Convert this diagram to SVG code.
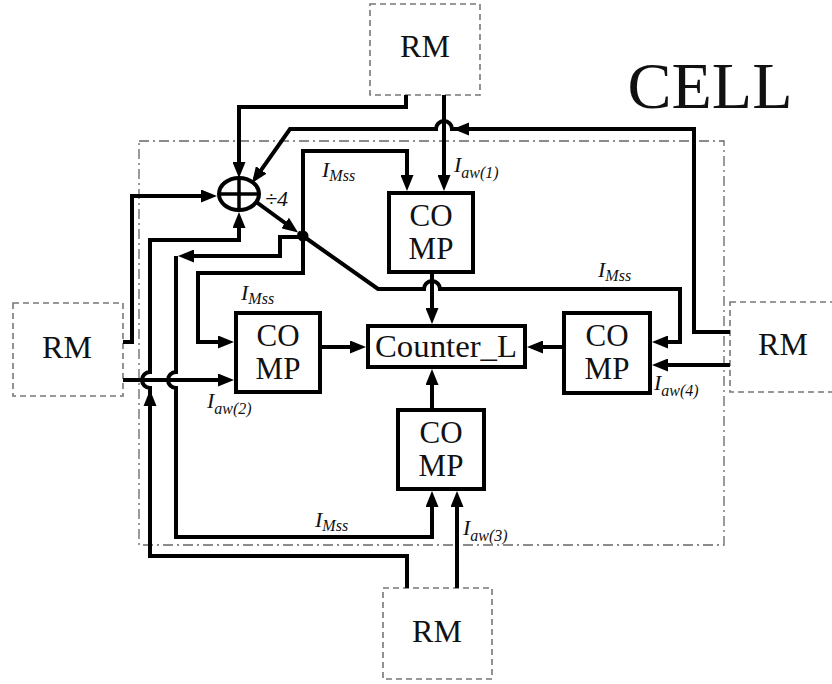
<svg xmlns="http://www.w3.org/2000/svg" width="832" height="684" viewBox="0 0 832 684">
<style>
.rm{fill:none;stroke:#777;stroke-width:1.6;stroke-dasharray:6,4}
.box{fill:#fff;stroke:#000;stroke-width:4}
.t{font-family:"Liberation Serif","Times New Roman",serif;fill:#111;text-anchor:middle}
.w{fill:none;stroke:#000;stroke-width:4;stroke-linejoin:miter}
.lbl{font-family:"Liberation Serif","Times New Roman",serif;font-style:italic;fill:#111;font-size:22px}
.sub{font-size:16px}
</style>
<defs>
<marker id="ah" markerUnits="userSpaceOnUse" markerWidth="16" markerHeight="13" refX="11" refY="6.5" orient="auto-start-reverse">
<path d="M0,0 L16,6.5 L0,13 z" fill="#000"/>
</marker>
</defs>
<rect width="832" height="684" fill="#fff"/>

<g id="cell">
<rect x="139" y="141" width="585" height="404" fill="none" stroke="#666" stroke-width="1.3" stroke-dasharray="10,4,2,4"/>
<text class="t" x="710" y="108" font-size="66">CELL</text>
</g>

<g id="rm-top"><rect class="rm" x="370" y="4" width="110" height="91"/><text class="t" x="425" y="57" font-size="32">RM</text></g>
<g id="rm-left"><rect class="rm" x="13" y="303" width="110" height="93"/><text class="t" x="67" y="358" font-size="32">RM</text></g>
<g id="rm-right"><rect class="rm" x="730" y="302" width="112" height="90"/><text class="t" x="783" y="355" font-size="32">RM</text></g>
<g id="rm-bottom"><rect class="rm" x="383" y="588" width="109" height="91"/><text class="t" x="437" y="642" font-size="32">RM</text></g>

<g id="connectors">
<path class="w" d="M406,95 V107 H239 V173" marker-end="url(#ah)"/>
<path class="w" d="M444,95 V186" marker-end="url(#ah)"/>
<path class="w" d="M730,332 H694 V129 H452 A8,8 0 0 0 436,129 H290 L254.9,178.9" marker-end="url(#ah)"/>
<polygon points="453,129 469,122.5 469,135.5" fill="#000"/>
<path class="w" d="M123,342 H132 V196 H212" marker-end="url(#ah)"/>
<path class="w" d="M123,380 H229" marker-end="url(#ah)"/>
<path class="w" d="M407,588 V556 H150 V388 A8,8 0 0 1 150,372 V240 H239 V217" marker-end="url(#ah)"/>
<polygon points="150,390 143.5,406 156.5,406" fill="#000"/>
<path class="w" d="M255,201 L294,229.5" marker-end="url(#ah)"/>
<path class="w" d="M298,232.5 L378,289 H424 A8,8 0 0 1 440,289 H680 V342 H657" marker-end="url(#ah)"/>
<circle cx="303" cy="236" r="5.5" fill="#000"/>
<path class="w" d="M407,186 V151 H303 V273 H198 V342 H229" marker-start="url(#ah)" marker-end="url(#ah)"/>
<path class="w" d="M303,237 H280 V256 H183" marker-end="url(#ah)"/>
<path class="w" d="M176,256 V372 A8,8 0 0 0 176,388 V537 H432 V496" marker-end="url(#ah)"/>
<path class="w" d="M457,588 V496" marker-end="url(#ah)"/>
<path class="w" d="M432,274 V319" marker-end="url(#ah)"/>
<path class="w" d="M432,408 V374" marker-end="url(#ah)"/>
<path class="w" d="M322,347 H361" marker-end="url(#ah)"/>
<path class="w" d="M562,347 H532" marker-end="url(#ah)"/>
<path class="w" d="M730,365 H657" marker-end="url(#ah)"/>
</g>

<g id="sum">
<ellipse cx="239" cy="194" rx="20" ry="16" fill="#fff" stroke="#000" stroke-width="4"/>
<path d="M239,178 V210 M219,194 H259" stroke="#000" stroke-width="3.5"/>
</g>

<g id="comp-top"><rect class="box" x="389" y="193" width="84" height="79"/><text class="t" x="431" y="226" font-size="31">CO</text><text class="t" x="431" y="259" font-size="31">MP</text></g>
<g id="comp-left"><rect class="box" x="236" y="313" width="84" height="79"/><text class="t" x="278" y="346" font-size="31">CO</text><text class="t" x="278" y="379" font-size="31">MP</text></g>
<g id="comp-right"><rect class="box" x="564" y="313" width="86" height="80"/><text class="t" x="607" y="346" font-size="31">CO</text><text class="t" x="607" y="379" font-size="31">MP</text></g>
<g id="comp-bottom"><rect class="box" x="398" y="410" width="86" height="79"/><text class="t" x="441" y="443" font-size="31">CO</text><text class="t" x="441" y="476" font-size="31">MP</text></g>
<g id="counter"><rect class="box" x="368" y="326" width="157" height="41"/><text class="t" x="446" y="357" font-size="31" textLength="142" lengthAdjust="spacingAndGlyphs">Counter_L</text></g>

<g id="labels">
<text class="lbl" x="322" y="177">I<tspan class="sub" dy="4">Mss</tspan></text>
<text class="lbl" x="241" y="300">I<tspan class="sub" dy="4">Mss</tspan></text>
<text class="lbl" x="598" y="277">I<tspan class="sub" dy="4">Mss</tspan></text>
<text class="lbl" x="315" y="527">I<tspan class="sub" dy="4">Mss</tspan></text>
<text class="lbl" x="454" y="172">I<tspan class="sub" dy="6">aw(1)</tspan></text>
<text class="lbl" x="207" y="408">I<tspan class="sub" dy="6">aw(2)</tspan></text>
<text class="lbl" x="463" y="535">I<tspan class="sub" dy="6">aw(3)</tspan></text>
<text class="lbl" x="654" y="390">I<tspan class="sub" dy="6">aw(4)</tspan></text>
<text class="lbl" x="265" y="206" font-size="15" fill="#555">÷4</text>
</g>
</svg>
